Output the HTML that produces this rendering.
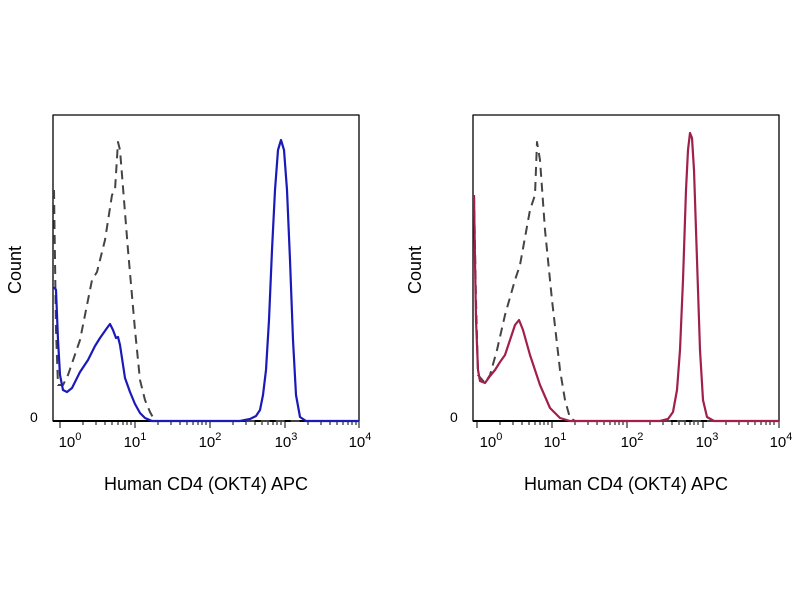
<!DOCTYPE html>
<html><head><style>body{margin:0;background:#fff}svg{display:block}</style></head><body>
<svg width="800" height="600" xmlns="http://www.w3.org/2000/svg" font-family="Liberation Sans, Arial, sans-serif" stroke-linejoin="round">
<rect width="800" height="600" fill="#fff"/>
<g>
<rect x="53" y="115" width="306" height="306" fill="none" stroke="#000" stroke-width="1.3"/>
<line x1="53" y1="421" x2="359" y2="421" stroke="#000" stroke-width="2"/>
<g stroke="#000" stroke-width="1">
<line x1="60" y1="421" x2="60" y2="428"/><line x1="135" y1="421" x2="135" y2="428"/><line x1="210" y1="421" x2="210" y2="428"/><line x1="285" y1="421" x2="285" y2="428"/><line x1="359" y1="421" x2="359" y2="428"/>
<path d="M83 421v4M96 421v4M105 421v4M112 421v4M118 421v4M123 421v4M127 421v4M131 421v4M158 421v4M171 421v4M180 421v4M187 421v4M193 421v4M198 421v4M202 421v4M206 421v4M233 421v4M246 421v4M255 421v4M262 421v4M268 421v4M273 421v4M277 421v4M281 421v4M308 421v4M321 421v4M330 421v4M337 421v4M343 421v4M348 421v4M352 421v4M356 421v4"/>
</g>
<polyline fill="none" stroke="#444" stroke-width="2" stroke-dasharray="9,6" points="54,190 55,260 56,330 58,385 63,385 68,375 80,340 92,280 97,272 105,240 112,195 115,190 118,142 120,150 122,175 128,250 135,330 140,380 145,400 150,412 155,421 359,421"/>
<polyline fill="none" stroke="#1a1ab8" stroke-width="2.2" points="54,287 56,290 58,340 60,375 63,390 67,392 72,388 80,372 88,360 95,346 100,338 107,328 110,324 113,330 116,338 118,337 120,345 125,378 130,392 135,404 140,413 145,418 152,421 240,421 250,419 256,416 260,410 263,395 266,370 269,320 272,250 275,190 278,150 281,140 284,150 287,190 290,260 293,340 296,395 300,417 306,421 359,421"/>
<text x="30" y="422" font-size="14">0</text>
<text transform="translate(21,270) rotate(-90)" font-size="18" text-anchor="middle">Count</text>
<g font-size="15" text-anchor="middle"><text x="70" y="447">10<tspan font-size="11" dy="-7">0</tspan></text><text x="135" y="447">10<tspan font-size="11" dy="-7">1</tspan></text><text x="210" y="447">10<tspan font-size="11" dy="-7">2</tspan></text><text x="286" y="447">10<tspan font-size="11" dy="-7">3</tspan></text><text x="360" y="447">10<tspan font-size="11" dy="-7">4</tspan></text></g>
<text x="206" y="490" font-size="18" text-anchor="middle">Human CD4 (OKT4) APC</text>
</g>
<g>
<rect x="473" y="115" width="306" height="306" fill="none" stroke="#000" stroke-width="1.3"/>
<line x1="473" y1="421" x2="779" y2="421" stroke="#000" stroke-width="2"/>
<g stroke="#000" stroke-width="1">
<line x1="477" y1="421" x2="477" y2="428"/><line x1="552" y1="421" x2="552" y2="428"/><line x1="627" y1="421" x2="627" y2="428"/><line x1="703" y1="421" x2="703" y2="428"/><line x1="779" y1="421" x2="779" y2="428"/>
<path d="M500 421v4M513 421v4M522 421v4M529 421v4M535 421v4M540 421v4M544 421v4M548 421v4M575 421v4M588 421v4M597 421v4M604 421v4M610 421v4M615 421v4M619 421v4M623 421v4M650 421v4M663 421v4M672 421v4M679 421v4M685 421v4M690 421v4M694 421v4M698 421v4M726 421v4M739 421v4M748 421v4M755 421v4M761 421v4M766 421v4M770 421v4M774 421v4"/>
</g>
<polyline fill="none" stroke="#444" stroke-width="2" stroke-dasharray="9,6" points="474,195 476,300 478,375 485,383 490,375 497,350 505,315 515,280 520,265 530,210 535,195 537,142 540,160 545,230 552,300 560,370 565,400 570,418 575,421 779,421"/>
<polyline fill="none" stroke="#a0204a" stroke-width="2.2" points="474,195 475,260 476,320 478,370 480,381 485,383 490,376 495,370 500,362 505,355 510,340 515,325 519,320 523,330 530,355 540,385 550,408 560,418 570,421 660,421 668,419 673,412 677,390 680,350 683,280 686,190 688,150 690,133 692,138 694,170 697,260 700,350 703,400 707,417 714,421 779,421"/>
<text x="450" y="422" font-size="14">0</text>
<text transform="translate(421,270) rotate(-90)" font-size="18" text-anchor="middle">Count</text>
<g font-size="15" text-anchor="middle"><text x="491" y="447">10<tspan font-size="11" dy="-7">0</tspan></text><text x="555" y="447">10<tspan font-size="11" dy="-7">1</tspan></text><text x="632" y="447">10<tspan font-size="11" dy="-7">2</tspan></text><text x="707" y="447">10<tspan font-size="11" dy="-7">3</tspan></text><text x="781" y="447">10<tspan font-size="11" dy="-7">4</tspan></text></g>
<text x="626" y="490" font-size="18" text-anchor="middle">Human CD4 (OKT4) APC</text>
</g>
</svg>
</body></html>
